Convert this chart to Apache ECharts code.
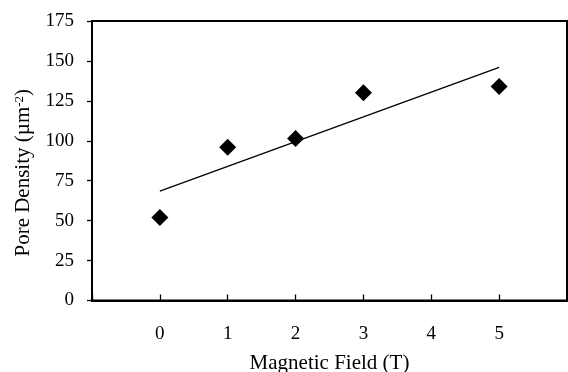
<!DOCTYPE html>
<html>
<head>
<meta charset="utf-8">
<script src="https://cdn.jsdelivr.net/npm/echarts@6/dist/echarts.min.js"></script>
<style>html,body{margin:0;padding:0;background:#fff}#c{width:568px;height:372px}</style>
</head>
<body>
<div id="c"></div>
<script>
// Data
var fieldT = [0, 1, 2, 3, 5];
var poreDensity = [52, 96, 101.5, 130, 134];
// Linear trend line (end points)
var trendX = [0, 5];
var trendY = [68.5, 146];
var xTickLabels = ['0', '1', '2', '3', '4', '5'];
var yTickLabels = ['0', '25', '50', '75', '100', '125', '150', '175'];

var font = 'Liberation Serif';
var chart = echarts.init(document.getElementById('c'), null, {renderer: 'canvas'});
chart.setOption({
  animation: false,
  grid: {left: 92, right: 1, top: 21, bottom: 71.5, containLabel: false, outerBoundsMode: 'none',
    show: true, borderColor: '#000', borderWidth: 2, backgroundColor: 'transparent'},
  xAxis: {
    type: 'value', min: -1, max: 6, interval: 1,
    name: 'Magnetic Field (T)', nameLocation: 'middle', nameGap: 52,
    nameTextStyle: {fontFamily: font, fontSize: 21, color: '#000'},
    axisLine: {onZero: false, lineStyle: {color: '#000', width: 2}},
    axisTick: {inside: true, length: 6, lineStyle: {color: '#000', width: 1.3}},
    axisLabel: {
      fontFamily: font, fontSize: 19, color: '#000', margin: 24,
      formatter: function (v) { return xTickLabels.indexOf(String(v)) >= 0 ? String(v) : ''; }
    },
    splitLine: {show: false}
  },
  yAxis: {
    type: 'value', min: 0, max: 175, interval: 25,
    name: 'Pore Density (µm{sup|-2})', nameLocation: 'middle', nameGap: 58,
    nameTextStyle: {fontFamily: font, fontSize: 21, color: '#000', padding: [0, 24, 0, 0],
      rich: {sup: {fontFamily: font, fontSize: 13, color: '#000', verticalAlign: 'top', padding: [0, 0, 8, 0]}}},
    axisLine: {show: true, onZero: false, lineStyle: {color: '#000', width: 2}},
    axisTick: {show: true, length: 5, lineStyle: {color: '#000', width: 1.3}},
    axisLabel: {
      fontFamily: font, fontSize: 19, color: '#000', margin: 18, padding: [3, 0, 0, 0],
      formatter: function (v) { return yTickLabels.indexOf(String(v)) >= 0 ? String(v) : ''; }
    },
    splitLine: {show: false}
  },
  series: [
    {
      type: 'line', data: trendX.map(function (x, i) { return [x, trendY[i]]; }),
      symbol: 'none', lineStyle: {color: '#000', width: 1.3}, z: 2
    },
    {
      type: 'scatter', data: fieldT.map(function (x, i) { return [x, poreDensity[i]]; }),
      symbol: 'diamond', symbolSize: 17, itemStyle: {color: '#000', opacity: 1}, z: 3
    }
  ]
});
</script>
</body>
</html>
